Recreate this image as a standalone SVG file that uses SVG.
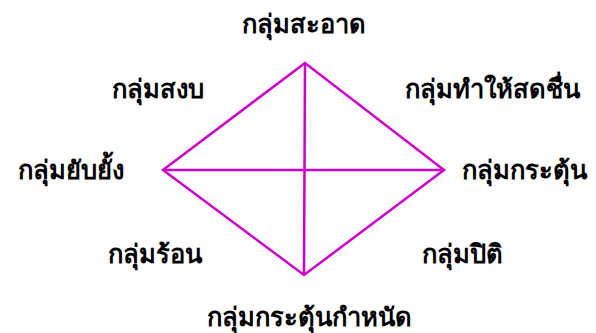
<svg xmlns="http://www.w3.org/2000/svg" width="596" height="333" viewBox="0 0 596 333">
<style>
text{font-family:"Noto Sans","DejaVu Sans",sans-serif;font-size:25.5px;font-weight:bold;fill:#000;text-anchor:middle}
.e{stroke:#cc00cc;stroke-width:2.5;fill:none}
</style>
<rect width="596" height="333" fill="#fff"/>
<g id="connectors">
<path class="e" d="M305 63 L163 170 L304 275 L444 170 Z"/>
<line class="e" x1="163" y1="170" x2="444" y2="170"/>
<line class="e" x1="305" y1="63" x2="304" y2="275"/>
</g>
<g id="n-clean"><text x="304" y="33">กลุ่มสะอาด</text></g>
<g id="n-calm"><text x="158" y="98">กลุ่มสงบ</text></g>
<g id="n-fresh"><text x="492" y="98">กลุ่มทำให้สดชื่น</text></g>
<g id="n-inhibit"><text x="71" y="179">กลุ่มยับยั้ง</text></g>
<g id="n-stim"><text x="524" y="179">กลุ่มกระตุ้น</text></g>
<g id="n-hot"><text x="155" y="263">กลุ่มร้อน</text></g>
<g id="n-joy"><text x="462" y="263">กลุ่มปิติ</text></g>
<g id="n-lust"><text x="309" y="326">กลุ่มกระตุ้นกำหนัด</text></g>
</svg>
